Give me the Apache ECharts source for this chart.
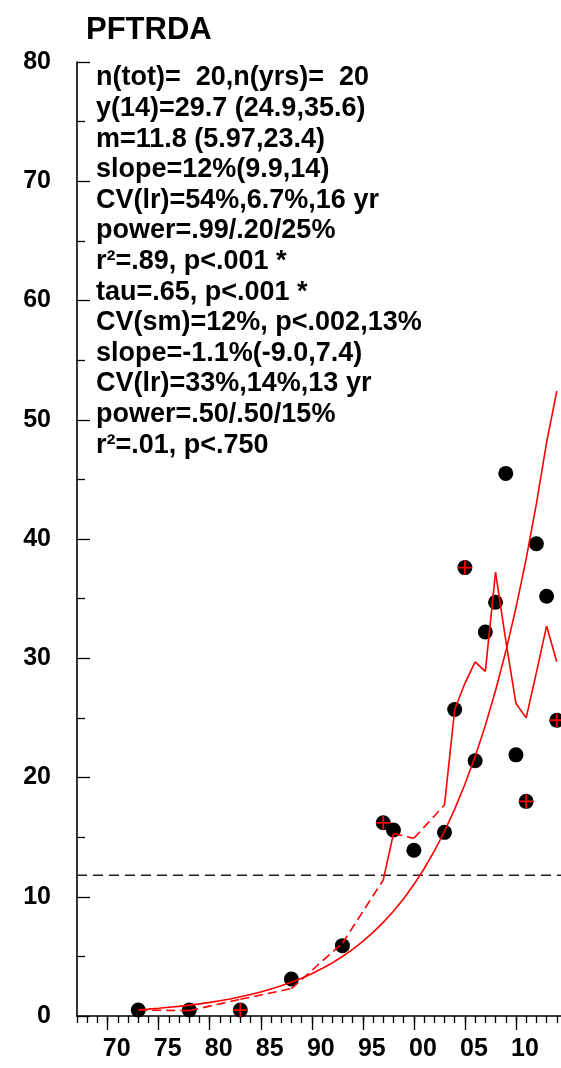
<!DOCTYPE html>
<html><head><meta charset="utf-8">
<script src="https://cdn.jsdelivr.net/npm/echarts@6/dist/echarts.min.js"></script>
<style>html,body{margin:0;padding:0;background:#fff}#c{width:561px;height:1068px}</style>
</head><body><div id="c"></div>
<script>
const chartTitle = 'PFTRDA';
const years = [1973,1978,1983,1988,1993,1997,1998,2000,2003,2004,2005,2006,2007,2008,2009,2010,2011,2012,2013,2014];
const values = [0.5,0.5,0.5,3.1,5.9,16.2,15.6,13.9,15.4,25.7,37.6,21.4,32.2,34.7,45.5,21.9,18.0,39.6,35.2,24.8];
const crossYears = [1983,1997,2005,2011,2014];
const smoothValues = [0.5,0.45,1.4,2.3,6.1,11.4,15.3,14.9,17.7,25.7,27.9,29.7,28.9,37.2,31.5,26.2,25.0,28.8,32.7,29.7];
const fitYears = [1973,1974,1975,1976,1977,1978,1979,1980,1981,1982,1983,1984,1985,1986,1987,1988,1989,1990,1991,1992,1993,1994,1995,1996,1997,1998,1999,2000,2001,2002,2003,2004,2005,2006,2007,2008,2009,2010,2011,2012,2013,2014];
const fitValues = [0.52,0.58,0.65,0.73,0.81,0.91,1.02,1.14,1.28,1.43,1.61,1.80,2.02,2.26,2.53,2.83,3.17,3.55,3.98,4.45,4.99,5.59,6.26,7.01,7.85,8.79,9.84,11.02,12.35,13.83,15.49,17.35,19.43,21.76,24.37,27.29,30.56,34.23,38.34,42.94,48.09,52.4];
const meanLevel = 11.8;
const xMin = 1967, xMax = 2015;
const xTickYears = [1970,1975,1980,1985,1990,1995,2000,2005,2010];
const xTickLabels = ['70','75','80','85','90','95','00','05','10'];
const xMinorYears = [1967,1968,1969,1970,1971,1972,1973,1974,1975,1976,1977,1978,1979,1980,1981,1982,1983,1984,1985,1986,1987,1988,1989,1990,1991,1992,1993,1994,1995,1996,1997,1998,1999,2000,2001,2002,2003,2004,2005,2006,2007,2008,2009,2010,2011,2012,2013,2014,2015];
const yMin = 0, yMax = 80, yStep = 10;
const statLines = [
  'n(tot)=  20,n(yrs)=  20',
  'y(14)=29.7 (24.9,35.6)',
  'm=11.8 (5.97,23.4)',
  'slope=12%(9.9,14)',
  'CV(lr)=54%,6.7%,16 yr',
  'power=.99/.20/25%',
  'r\u00b2=.89, p<.001 *',
  'tau=.65, p<.001 *',
  'CV(sm)=12%, p<.002,13%',
  'slope=-1.1%(-9.0,7.4)',
  'CV(lr)=33%,14%,13 yr',
  'power=.50/.50/15%',
  'r\u00b2=.01, p<.750'
];

const FONT = '"Liberation Sans", Arial, Helvetica, sans-serif';
const chart = echarts.init(document.getElementById('c'), null, {renderer:'canvas'});

const series = [];
series.push({
  type:'scatter', xAxisIndex:0, yAxisIndex:0, z:1,
  symbol:'circle', symbolSize:15,
  itemStyle:{color:'#000', opacity:1},
  emphasis:{disabled:true},
  data: years.map((y,i)=>[y, values[i]]),
  silent:true
});
series.push({
  type:'scatter', xAxisIndex:0, yAxisIndex:0, z:5,
  symbol:'path://M-0.9,-7h1.8v14h-1.8zM-7,-0.9h14v1.8h-14z', symbolSize:14,
  itemStyle:{color:'#ff0000', opacity:1},
  emphasis:{disabled:true},
  data: years.map((y,i)=>[y, values[i]]).filter(d=>crossYears.indexOf(d[0])>=0),
  silent:true
});
series.push({
  type:'line', xAxisIndex:0, yAxisIndex:0, z:3, symbol:'none', silent:true,
  lineStyle:{color:'#ff0000', width:1.6},
  data: fitYears.map((y,i)=>[y, fitValues[i]])
});
for (let i=0;i<years.length-1;i++){
  const gap = years[i+1]-years[i] > 1;
  series.push({
    type:'line', xAxisIndex:0, yAxisIndex:0, z:3, symbol:'none', silent:true,
    lineStyle:{color:'#ff0000', width:1.6, type: gap ? [9,5] : 'solid'},
    data:[[years[i], smoothValues[i]],[years[i+1], smoothValues[i+1]]]
  });
}
series.push({
  type:'line', xAxisIndex:0, yAxisIndex:0, z:2, symbol:'none', silent:true,
  lineStyle:{color:'#222', width:1.6, type:[10,6]},
  data:[[xMin, meanLevel],[xMax, meanLevel]]
});

const graphics = [{
  type:'text', x:86, y:30,
  style:{text:chartTitle, font:'bold 31px '+FONT, fill:'#000', textAlign:'left', textVerticalAlign:'middle', align:'left', verticalAlign:'middle'}
}];
statLines.forEach((t,i)=>{
  graphics.push({
    type:'text', x:96, y:78 + i*30.6,
    style:{text:t, font:'bold 27px '+FONT, fill:'#000', textAlign:'left', textVerticalAlign:'middle', align:'left', verticalAlign:'middle'}
  });
});

chart.setOption({
  animation:false,
  backgroundColor:'#fff',
  grid:{left:77, top:62, width:490, height:954, containLabel:false, outerBoundsMode:'none'},
  xAxis:[{
    type:'value', min:xMin, max:xMax, position:'bottom',
    axisLine:{show:true, onZero:false, lineStyle:{color:'#000', width:1.6}},
    axisTick:{show:true, inside:false, length:14, customValues:xTickYears, lineStyle:{color:'#000', width:1.3}},
    axisLabel:{show:true, customValues:xTickYears, margin:21, padding:[0,0,0,18],
      fontSize:25, fontWeight:'bold', fontFamily:FONT, color:'#000',
      formatter:(v)=>{const k=xTickYears.indexOf(v); return k>=0?xTickLabels[k]:'';}},
    splitLine:{show:false}
  },{
    type:'value', min:xMin, max:xMax, position:'bottom', gridIndex:0,
    axisLine:{show:false, onZero:false},
    axisTick:{show:true, inside:false, length:7, customValues:xMinorYears, lineStyle:{color:'#000', width:1.3}},
    axisLabel:{show:false},
    splitLine:{show:false}
  }],
  yAxis:{
    type:'value', min:yMin, max:yMax, interval:yStep,
    axisLine:{show:true, onZero:false, lineStyle:{color:'#000', width:1.6}},
    axisTick:{show:true, inside:true, length:13, lineStyle:{color:'#000', width:1.3}},
    minorTick:{show:true, splitNumber:2, length:8, lineStyle:{color:'#000', width:1.3}},
    axisLabel:{margin:26, fontSize:25, fontWeight:'bold', fontFamily:FONT, color:'#000'},
    splitLine:{show:false}, minorSplitLine:{show:false}
  },
  graphic: graphics,
  series: series
});
</script></body></html>
